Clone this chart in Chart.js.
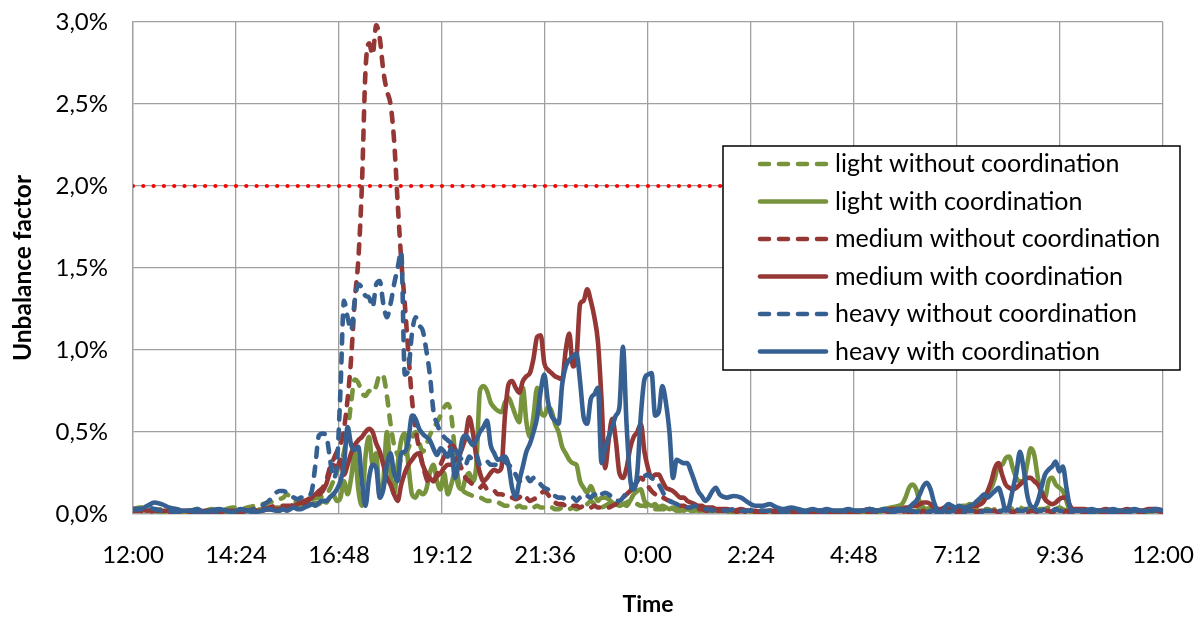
<!DOCTYPE html>
<html>
<head>
<meta charset="utf-8">
<script src="https://cdn.jsdelivr.net/npm/chart.js@4.4.1/dist/chart.umd.min.js"></script>
<style>
html,body{margin:0;padding:0;background:#fff;}
#wrap{width:1203px;height:618px;position:relative;}
</style>
</head>
<body>
<div id="wrap"><canvas id="c" width="1203" height="618"></canvas></div>
<script>
// minutes after 12:00
const timeMinutes = [
0,10,20,30,40,50,60,70,80,90,100,110,120,130,140,150,160,170,180,190,200,
205,210,215,220,225,230,235,240,245,250,255,260,
265,270,275,280,285,290,295,300,305,310,315,320,
325,330,335,340,345,350,355,360,365,370,375,380,
385,390,395,400,405,410,415,420,425,430,435,440,
445,450,455,460,465,470,475,480,485,490,495,500,
505,510,515,520,525,530,535,540,545,550,555,560,
565,570,575,580,585,590,595,600,605,610,615,620,
625,630,635,640,645,650,655,660,665,670,675,680,
685,690,695,700,705,710,715,720,725,730,735,740,
745,750,755,760,765,770,775,780,785,790,795,800,
805,810,815,
820,830,840,850,860,870,880,890,900,910,920,930,940,950,960,970,980,990,1000,1010,1020,1030,1040,1050,1060,1070,
1075,1080,1085,1090,1095,1100,1105,1110,1115,1120,
1125,1130,1135,1140,1145,1150,1155,1160,1165,1170,
1175,1180,1185,1190,1195,1200,1205,1210,1215,1220,
1225,1230,1235,1240,1245,1250,1255,1260,1265,1270,
1275,1280,1285,1290,1295,1300,1305,1310,1315,1320,
1330,1340,1350,1360,1370,1380,1390,1400,1410,1420,1430,1440
];

const xTickLabels = ['12:00','14:24','16:48','19:12','21:36','0:00','2:24','4:48','7:12','9:36','12:00'];
const yTickLabels = ['0,0%','0,5%','1,0%','1,5%','2,0%','2,5%','3,0%'];

const seriesNames = [
'light without coordination',
'light with coordination',
'medium without coordination',
'medium with coordination',
'heavy without coordination',
'heavy with coordination'
];

// values in %
const lightWithout = [
0.03,0.04,0.03,0.02,0.03,0.02,0.03,0.02,0.02,0.03,0.02,0.03,0.02,0.03,0.04,0.03,0.04,0.05,0.06,0.07,0.08,
0.09,0.10,0.12,0.10,0.08,0.07,0.06,0.07,0.08,0.09,0.10,0.10,
0.11,0.12,0.15,0.20,0.26,0.30,0.38,0.50,0.68,0.82,0.80,0.74,
0.72,0.75,0.74,0.78,0.85,0.84,0.72,0.55,0.42,0.36,0.32,0.36,
0.40,0.46,0.50,0.44,0.38,0.42,0.48,0.52,0.56,0.60,0.65,0.67,
0.60,0.38,0.20,0.15,0.13,0.12,0.11,0.10,0.10,0.09,0.08,0.08,
0.07,0.07,0.06,0.05,0.05,0.04,0.04,0.05,0.04,0.04,0.05,0.04,
0.05,0.04,0.04,0.03,0.04,0.03,0.03,0.04,0.03,0.03,0.04,0.03,
0.04,0.05,0.06,0.08,0.06,0.05,0.04,0.05,0.06,0.05,0.04,0.05,
0.06,0.07,0.08,0.07,0.06,0.05,0.05,0.04,0.04,0.03,0.03,0.03,
0.03,0.02,0.03,0.02,0.02,0.03,0.02,0.02,0.02,0.03,0.02,0.02,
0.02,0.02,0.02,
0.02,0.01,0.02,0.01,0.02,0.01,0.01,0.02,0.01,0.01,0.02,0.01,0.01,0.02,0.01,0.01,0.02,0.01,0.02,0.01,0.01,0.02,0.01,0.02,0.02,0.02,
0.02,0.02,0.03,0.02,0.02,0.03,0.02,0.02,0.02,0.03,
0.02,0.02,0.03,0.02,0.02,0.02,0.03,0.02,0.02,0.03,
0.02,0.03,0.02,0.03,0.03,0.02,0.03,0.04,0.03,0.03,
0.04,0.03,0.03,0.04,0.03,0.03,0.04,0.03,0.03,0.03,
0.03,0.04,0.03,0.03,0.04,0.03,0.02,0.02,0.02,0.02,
0.02,0.01,0.02,0.02,0.01,0.02,0.01,0.02,0.02,0.01,0.02,0.02
];

const lightWith = [
0.02,0.03,0.02,0.02,0.01,0.02,0.02,0.01,0.02,0.02,0.01,0.02,0.02,0.01,0.02,0.02,0.03,0.02,0.03,0.03,0.04,
0.04,0.04,0.03,0.04,0.05,0.04,0.05,0.06,0.05,0.06,0.07,0.06,
0.08,0.07,0.10,0.12,0.08,0.10,0.20,0.12,0.22,0.37,0.15,0.05,
0.35,0.47,0.30,0.37,0.10,0.20,0.50,0.25,0.12,0.30,0.45,0.49,
0.30,0.12,0.10,0.14,0.12,0.15,0.25,0.30,0.20,0.15,0.25,0.12,
0.18,0.25,0.17,0.15,0.22,0.25,0.20,0.30,0.75,0.78,0.75,0.68,
0.65,0.63,0.62,0.68,0.71,0.66,0.60,0.56,0.77,0.56,0.47,0.60,
0.77,0.62,0.60,0.65,0.63,0.55,0.50,0.41,0.37,0.33,0.31,0.30,
0.20,0.16,0.13,0.17,0.12,0.08,0.10,0.10,0.09,0.07,0.06,0.05,
0.06,0.05,0.08,0.12,0.14,0.15,0.08,0.06,0.05,0.06,0.04,0.05,
0.04,0.03,0.04,0.03,0.03,0.02,0.03,0.02,0.03,0.02,0.02,0.03,
0.02,0.03,0.02,
0.02,0.02,0.01,0.02,0.02,0.01,0.01,0.02,0.01,0.02,0.01,0.01,0.02,0.01,0.02,0.02,0.01,0.02,0.01,0.02,0.02,0.03,0.02,0.03,0.04,0.05,
0.06,0.10,0.16,0.18,0.15,0.07,0.04,0.03,0.04,0.03,
0.03,0.02,0.03,0.03,0.02,0.03,0.04,0.05,0.05,0.06,
0.05,0.07,0.08,0.10,0.14,0.16,0.22,0.30,0.30,0.34,
0.35,0.28,0.22,0.20,0.20,0.30,0.40,0.36,0.22,0.12,
0.10,0.20,0.22,0.18,0.16,0.14,0.08,0.02,0.02,0.02,
0.02,0.02,0.01,0.02,0.02,0.01,0.02,0.02,0.01,0.02,0.02,0.02
];

const mediumWithout = [
0.02,0.02,0.01,0.02,0.02,0.01,0.01,0.02,0.01,0.02,0.02,0.01,0.02,0.02,0.01,0.02,0.02,0.03,0.03,0.04,0.05,
0.05,0.05,0.05,0.05,0.06,0.06,0.07,0.08,0.09,0.11,0.12,0.14,
0.16,0.20,0.28,0.33,0.38,0.42,0.52,0.70,0.95,1.30,1.55,2.00,
2.70,2.87,2.80,2.98,2.90,2.70,2.58,2.50,2.28,1.90,1.55,1.28,
0.98,0.70,0.52,0.40,0.30,0.22,0.18,0.20,0.24,0.30,0.35,0.38,
0.42,0.40,0.33,0.27,0.22,0.20,0.18,0.17,0.16,0.18,0.15,0.14,
0.14,0.12,0.12,0.11,0.10,0.10,0.09,0.10,0.12,0.10,0.08,0.09,
0.10,0.12,0.14,0.12,0.09,0.07,0.06,0.06,0.05,0.06,0.05,0.05,
0.04,0.05,0.04,0.04,0.05,0.04,0.04,0.05,0.04,0.05,0.06,0.08,
0.10,0.12,0.14,0.16,0.20,0.22,0.20,0.17,0.14,0.12,0.10,0.10,
0.09,0.08,0.07,0.06,0.05,0.05,0.04,0.04,0.03,0.03,0.03,0.02,
0.02,0.02,0.02,
0.02,0.02,0.01,0.02,0.01,0.01,0.02,0.01,0.01,0.02,0.01,0.01,0.02,0.01,0.02,0.01,0.01,0.02,0.01,0.01,0.02,0.01,0.01,0.02,0.01,0.02,
0.01,0.02,0.01,0.01,0.02,0.01,0.02,0.01,0.01,0.02,
0.01,0.01,0.02,0.01,0.02,0.01,0.01,0.02,0.01,0.02,
0.02,0.01,0.02,0.02,0.01,0.02,0.02,0.01,0.02,0.02,
0.02,0.01,0.02,0.02,0.02,0.01,0.02,0.02,0.01,0.02,
0.02,0.02,0.01,0.02,0.02,0.01,0.02,0.01,0.01,0.02,
0.01,0.02,0.01,0.01,0.02,0.01,0.01,0.02,0.01,0.02,0.02,0.01
];

const mediumWith = [
0.02,0.03,0.02,0.03,0.02,0.02,0.01,0.02,0.02,0.01,0.02,0.02,0.01,0.02,0.02,0.01,0.02,0.02,0.02,0.03,0.03,
0.03,0.03,0.04,0.04,0.05,0.06,0.07,0.06,0.08,0.10,0.12,0.12,
0.14,0.18,0.25,0.30,0.28,0.33,0.24,0.30,0.37,0.42,0.45,0.47,
0.50,0.52,0.50,0.43,0.38,0.30,0.22,0.18,0.12,0.08,0.18,0.25,
0.30,0.33,0.36,0.37,0.30,0.25,0.22,0.20,0.23,0.25,0.28,0.30,
0.30,0.33,0.35,0.40,0.47,0.59,0.50,0.35,0.25,0.20,0.22,0.25,
0.27,0.26,0.28,0.60,0.79,0.81,0.77,0.74,0.81,0.84,0.86,0.95,
1.08,1.09,0.92,0.88,0.86,0.84,0.83,0.82,1.00,1.10,0.90,0.95,
1.28,1.30,1.37,1.30,1.20,1.05,0.70,0.28,0.45,0.58,0.45,0.25,
0.22,0.28,0.40,0.47,0.50,0.55,0.38,0.28,0.22,0.24,0.24,0.20,
0.16,0.15,0.14,0.12,0.10,0.10,0.08,0.07,0.06,0.05,0.05,0.04,
0.04,0.04,0.03,
0.03,0.03,0.02,0.03,0.02,0.02,0.01,0.02,0.02,0.01,0.02,0.01,0.01,0.02,0.01,0.02,0.02,0.01,0.02,0.01,0.02,0.03,0.02,0.02,0.03,0.03,
0.03,0.04,0.04,0.05,0.05,0.06,0.07,0.07,0.06,0.04,
0.03,0.03,0.04,0.03,0.03,0.04,0.03,0.03,0.04,0.04,
0.05,0.05,0.06,0.08,0.14,0.20,0.28,0.31,0.24,0.18,
0.16,0.15,0.16,0.18,0.20,0.22,0.22,0.20,0.18,0.14,
0.09,0.07,0.06,0.07,0.09,0.10,0.10,0.05,0.03,0.03,
0.03,0.02,0.02,0.03,0.02,0.02,0.03,0.02,0.02,0.03,0.03,0.02
];

const heavyWithout = [
0.03,0.03,0.04,0.03,0.02,0.02,0.01,0.02,0.02,0.01,0.02,0.02,0.01,0.02,0.01,0.02,0.02,0.03,0.05,0.08,0.13,
0.14,0.14,0.13,0.11,0.10,0.09,0.10,0.10,0.11,0.14,0.30,0.48,
0.49,0.48,0.35,0.22,0.30,0.75,1.30,1.20,1.12,1.30,1.40,1.38,
1.33,1.32,1.26,1.40,1.42,1.28,1.20,1.28,1.40,1.50,1.60,0.85,
0.88,1.10,1.20,1.15,1.12,1.00,0.85,0.63,0.55,0.50,0.47,0.45,
0.43,0.40,0.36,0.33,0.30,0.35,0.33,0.36,0.30,0.30,0.32,0.30,
0.30,0.30,0.33,0.32,0.30,0.28,0.24,0.20,0.22,0.23,0.20,0.22,
0.21,0.18,0.16,0.15,0.13,0.11,0.10,0.10,0.09,0.10,0.10,0.08,
0.10,0.09,0.11,0.10,0.12,0.10,0.12,0.13,0.12,0.10,0.08,0.08,
0.10,0.13,0.15,0.17,0.20,0.21,0.23,0.24,0.22,0.20,0.18,0.14,
0.10,0.08,0.07,0.06,0.05,0.05,0.04,0.04,0.05,0.04,0.03,0.03,
0.03,0.02,0.03,
0.03,0.02,0.03,0.02,0.02,0.03,0.02,0.02,0.02,0.01,0.02,0.02,0.01,0.02,0.02,0.01,0.02,0.02,0.01,0.02,0.02,0.01,0.02,0.02,0.01,0.02,
0.02,0.01,0.02,0.02,0.01,0.02,0.02,0.01,0.02,0.02,
0.01,0.02,0.02,0.01,0.02,0.02,0.02,0.01,0.02,0.02,
0.02,0.02,0.01,0.02,0.02,0.02,0.03,0.02,0.02,0.03,
0.02,0.02,0.03,0.02,0.02,0.03,0.02,0.03,0.02,0.02,
0.03,0.02,0.02,0.03,0.02,0.02,0.02,0.01,0.02,0.02,
0.02,0.01,0.02,0.02,0.01,0.02,0.01,0.02,0.01,0.02,0.02,0.01
];

const heavyWith = [
0.03,0.03,0.05,0.07,0.06,0.04,0.03,0.02,0.02,0.03,0.01,0.02,0.03,0.02,0.01,0.03,0.02,0.01,0.02,0.03,0.02,
0.02,0.03,0.02,0.03,0.04,0.03,0.03,0.04,0.05,0.06,0.05,0.07,
0.08,0.08,0.10,0.12,0.15,0.20,0.30,0.53,0.42,0.39,0.41,0.20,
0.05,0.22,0.30,0.28,0.10,0.15,0.30,0.37,0.25,0.20,0.37,0.38,
0.45,0.60,0.58,0.52,0.49,0.47,0.45,0.40,0.36,0.40,0.38,0.35,
0.40,0.22,0.30,0.45,0.48,0.45,0.42,0.45,0.50,0.53,0.57,0.42,
0.37,0.33,0.34,0.35,0.30,0.16,0.10,0.20,0.29,0.38,0.43,0.50,
0.59,0.75,0.85,0.69,0.60,0.57,0.55,0.79,0.90,0.94,0.96,0.98,
0.81,0.59,0.55,0.70,0.73,0.77,0.31,0.40,0.47,0.53,0.60,0.65,
1.02,0.55,0.22,0.15,0.25,0.60,0.82,0.85,0.86,0.60,0.62,0.78,
0.68,0.50,0.22,0.33,0.32,0.31,0.31,0.26,0.20,0.14,0.11,0.08,
0.10,0.14,0.16,
0.12,0.10,0.11,0.10,0.07,0.05,0.05,0.06,0.04,0.03,0.04,0.03,0.02,0.03,0.02,0.03,0.02,0.02,0.03,0.02,0.02,0.03,0.02,0.03,0.02,0.03,
0.03,0.02,0.04,0.06,0.08,0.12,0.17,0.19,0.15,0.07,
0.02,0.01,0.04,0.06,0.05,0.04,0.05,0.04,0.04,0.05,
0.06,0.08,0.10,0.12,0.10,0.12,0.14,0.16,0.10,0.02,
0.05,0.15,0.25,0.38,0.28,0.12,0.05,0.04,0.08,0.16,
0.24,0.27,0.29,0.32,0.26,0.29,0.16,0.04,0.02,0.02,
0.02,0.03,0.02,0.02,0.03,0.02,0.02,0.03,0.02,0.02,0.03,0.02
];

const limitValue = 2.0;

const seriesValues = [lightWithout, lightWith, mediumWithout, mediumWith, heavyWithout, heavyWith];
const seriesColors = ['#77933C','#77933C','#953735','#953735','#376092','#376092'];
const seriesDashed = [true,false,true,false,true,false];

seriesValues.forEach((a,i)=>{ if(a.length!==timeMinutes.length) console.error('length mismatch', seriesNames[i], a.length, timeMinutes.length); });

const DASH = [9,10];

const datasets = seriesValues.map((vals, i) => ({
  label: seriesNames[i],
  data: timeMinutes.map((t, k) => ({x: t, y: vals[k]})),
  borderColor: seriesColors[i],
  backgroundColor: seriesColors[i],
  borderWidth: 4.6,
  borderDash: seriesDashed[i] ? DASH : [],
  borderCapStyle: 'round',
  borderJoinStyle: 'round',
  pointRadius: 0,
  cubicInterpolationMode: 'monotone',
  fill: false,
  order: 5 - i,
  legendIndex: i
}));

datasets.push({
  label: 'limit',
  data: [{x: timeMinutes[0], y: limitValue}, {x: timeMinutes[timeMinutes.length-1], y: limitValue}],
  borderColor: '#FF0000',
  borderWidth: 4.2,
  borderDash: [0, 10.3],
  borderCapStyle: 'round',
  pointRadius: 0,
  fill: false,
  order: 10
});

const boxLegend = {
  id: 'boxLegend',
  afterDraw(chart, args, opts) {
    const c = chart.ctx;
    c.save();
    c.fillStyle = '#ffffff';
    c.fillRect(opts.x, opts.y, opts.w, opts.h);
    c.strokeStyle = '#000000';
    c.lineWidth = 1.5;
    c.strokeRect(opts.x, opts.y, opts.w, opts.h);
    c.font = opts.font;
    c.textBaseline = 'middle';
    c.textAlign = 'left';
    chart.data.datasets.filter(d => d.legendIndex !== undefined).forEach(d => {
      const y = opts.firstRow + d.legendIndex * opts.rowGap;
      c.beginPath();
      c.strokeStyle = d.borderColor;
      c.lineWidth = 4.6;
      c.lineCap = 'round';
      c.setLineDash(d.borderDash);
      c.moveTo(opts.lineX0, y);
      c.lineTo(opts.lineX1, y);
      c.stroke();
      c.setLineDash([]);
      c.fillStyle = '#000000';
      c.fillText(d.label, opts.textX, y);
    });
    c.restore();
  }
};

new Chart(document.getElementById('c'), {
  type: 'line',
  data: { datasets },
  plugins: [boxLegend],
  options: {
    responsive: false,
    animation: false,
    devicePixelRatio: 1,
    layout: { padding: { left: 0, right: 40, top: 22, bottom: 0 } },
    plugins: {
      legend: { display: false },
      tooltip: { enabled: false },
      boxLegend: {
        x: 723, y: 146, w: 457, h: 224,
        firstRow: 164, rowGap: 37.5,
        lineX0: 760, lineX1: 826, textX: 835,
        font: '25px Lato'
      }
    },
    scales: {
      x: {
        type: 'linear',
        min: 0, max: 1440,
        afterFit: (s) => { s.height = 104; s.paddingLeft = 0; s.paddingRight = 0; },
        afterBuildTicks: (s) => { s.ticks = xTickLabels.map((_, i) => ({value: i * 144})); },
        ticks: {
          autoSkip: false, maxRotation: 0, minRotation: 0,
          padding: 27,
          color: '#000',
          font: { family: 'Lato', size: 24, lineHeight: 1.2 },
          callback: (v, i) => xTickLabels[i]
        },
        grid: { color: '#A0A0A0', lineWidth: 1.3, drawTicks: false },
        border: { display: true, color: '#A0A0A0', width: 1.3 },
        title: { display: true, text: 'Time', color: '#000', font: { family: 'Lato', size: 23, weight: 'bold', lineHeight: 1.2 }, padding: { top: 0, bottom: 0 } }
      },
      y: {
        min: 0, max: 3,
        afterFit: (s) => { s.width = 133; s.paddingTop = 0; s.paddingBottom = 0; },
        afterBuildTicks: (s) => { s.ticks = yTickLabels.map((_, i) => ({value: i * 0.5})); },
        ticks: {
          padding: 25,
          color: '#000',
          font: { family: 'Lato', size: 24, lineHeight: 1.2 },
          callback: (v, i) => yTickLabels[i]
        },
        grid: { color: '#A0A0A0', lineWidth: 1.3, drawTicks: false },
        border: { display: true, color: '#A0A0A0', width: 1.3 },
        title: { display: true, text: 'Unbalance factor', color: '#000', font: { family: 'Lato', size: 24.5, weight: 'bold', lineHeight: 1.2 }, padding: { top: 8, bottom: 0 } }
      }
    }
  }
});
</script>
</body>
</html>
